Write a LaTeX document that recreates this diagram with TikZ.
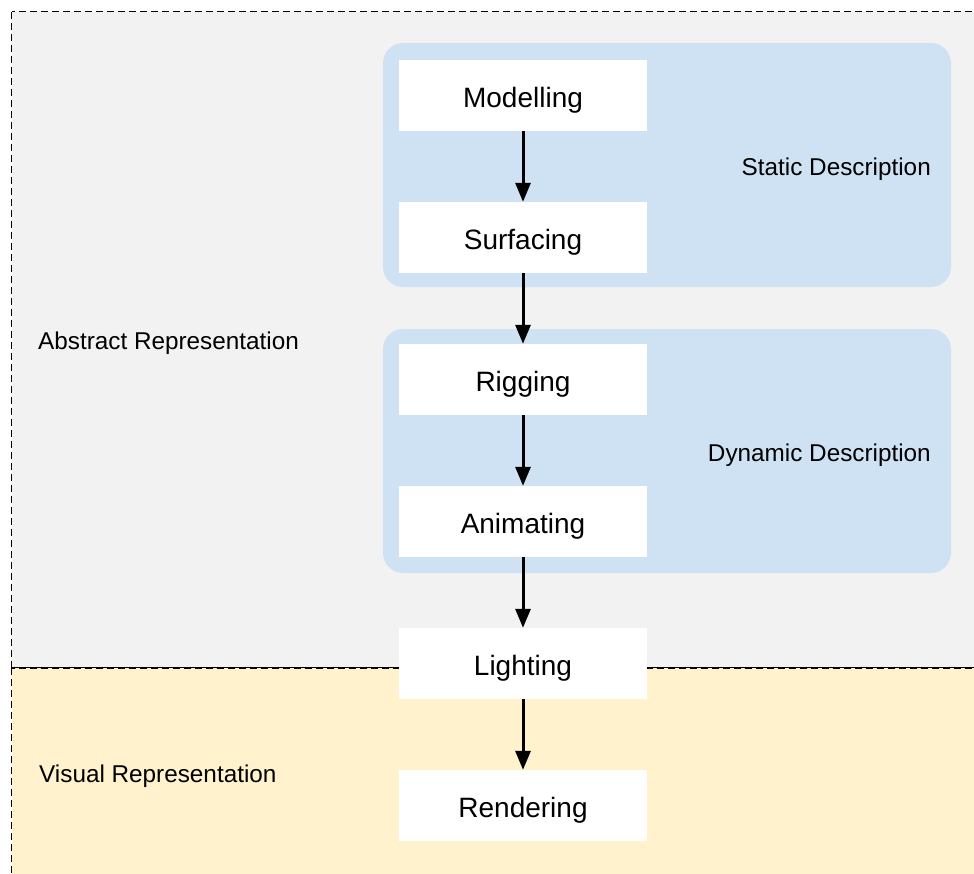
\documentclass[tikz,border=0pt]{standalone}
\usepackage{fontspec}
\setmainfont{Liberation Sans}
\usetikzlibrary{arrows.meta}
\definecolor{areagray}{HTML}{F2F2F2}
\definecolor{areayellow}{HTML}{FFF2CC}
\definecolor{groupblue}{HTML}{CFE2F3}
\tikzset{
  area/.style={draw=black, line width=1.8pt, dash pattern=on 7pt off 4pt},
  group/.style={fill=groupblue, rounded corners=20pt},
  stepbox/.style={fill=white, minimum width=248pt, minimum height=71pt, inner sep=0pt,
    text height=24pt, text depth=0pt, font=\fontsize{28}{32}\selectfont},
  grouplabel/.style={font=\fontsize{24.3}{28}\selectfont, inner sep=0pt, text height=18.4pt, text depth=0pt},
  flow/.style={-{Triangle[width=15pt,length=19pt]}, line width=3pt, black}
}
\begin{document}
\begin{tikzpicture}[x=1pt,y=-1pt]
\path[use as bounding box, clip] (0,0) rectangle (974,873);
\fill[white] (0,0) rectangle (974,873);
% areas
\draw[area, fill=areagray] (11.5,11.5) rectangle (990,668);
\draw[area, fill=areayellow] (11.5,668) rectangle (990,890);
% groups
\fill[group] (383,43) rectangle (951,287);
\fill[group] (383,329) rectangle (951,573);
% labels
\node[grouplabel, anchor=east] (static) at (931,166) {Static Description};
\node[grouplabel, anchor=east] (dynamic) at (931,452) {Dynamic Description};
\node[grouplabel, anchor=west] (abstract) at (38,340) {Abstract Representation};
\node[grouplabel, anchor=west] (visual) at (39,773) {Visual Representation};
% steps
\node[stepbox] (mod) at (523,95.5) {Modelling};
\node[stepbox] (surf) at (523,237.5) {Surfacing};
\node[stepbox] (rig) at (523,379.5) {Rigging};
\node[stepbox] (anim) at (523,521.5) {Animating};
\node[stepbox] (light) at (523,663.5) {Lighting};
\node[stepbox] (rend) at (523,805.5) {Rendering};
% arrows
\draw[flow] (mod) -- (surf);
\draw[flow] (surf) -- (rig);
\draw[flow] (rig) -- (anim);
\draw[flow] (anim) -- (light);
\draw[flow] (light) -- (rend);
\end{tikzpicture}
\end{document}
